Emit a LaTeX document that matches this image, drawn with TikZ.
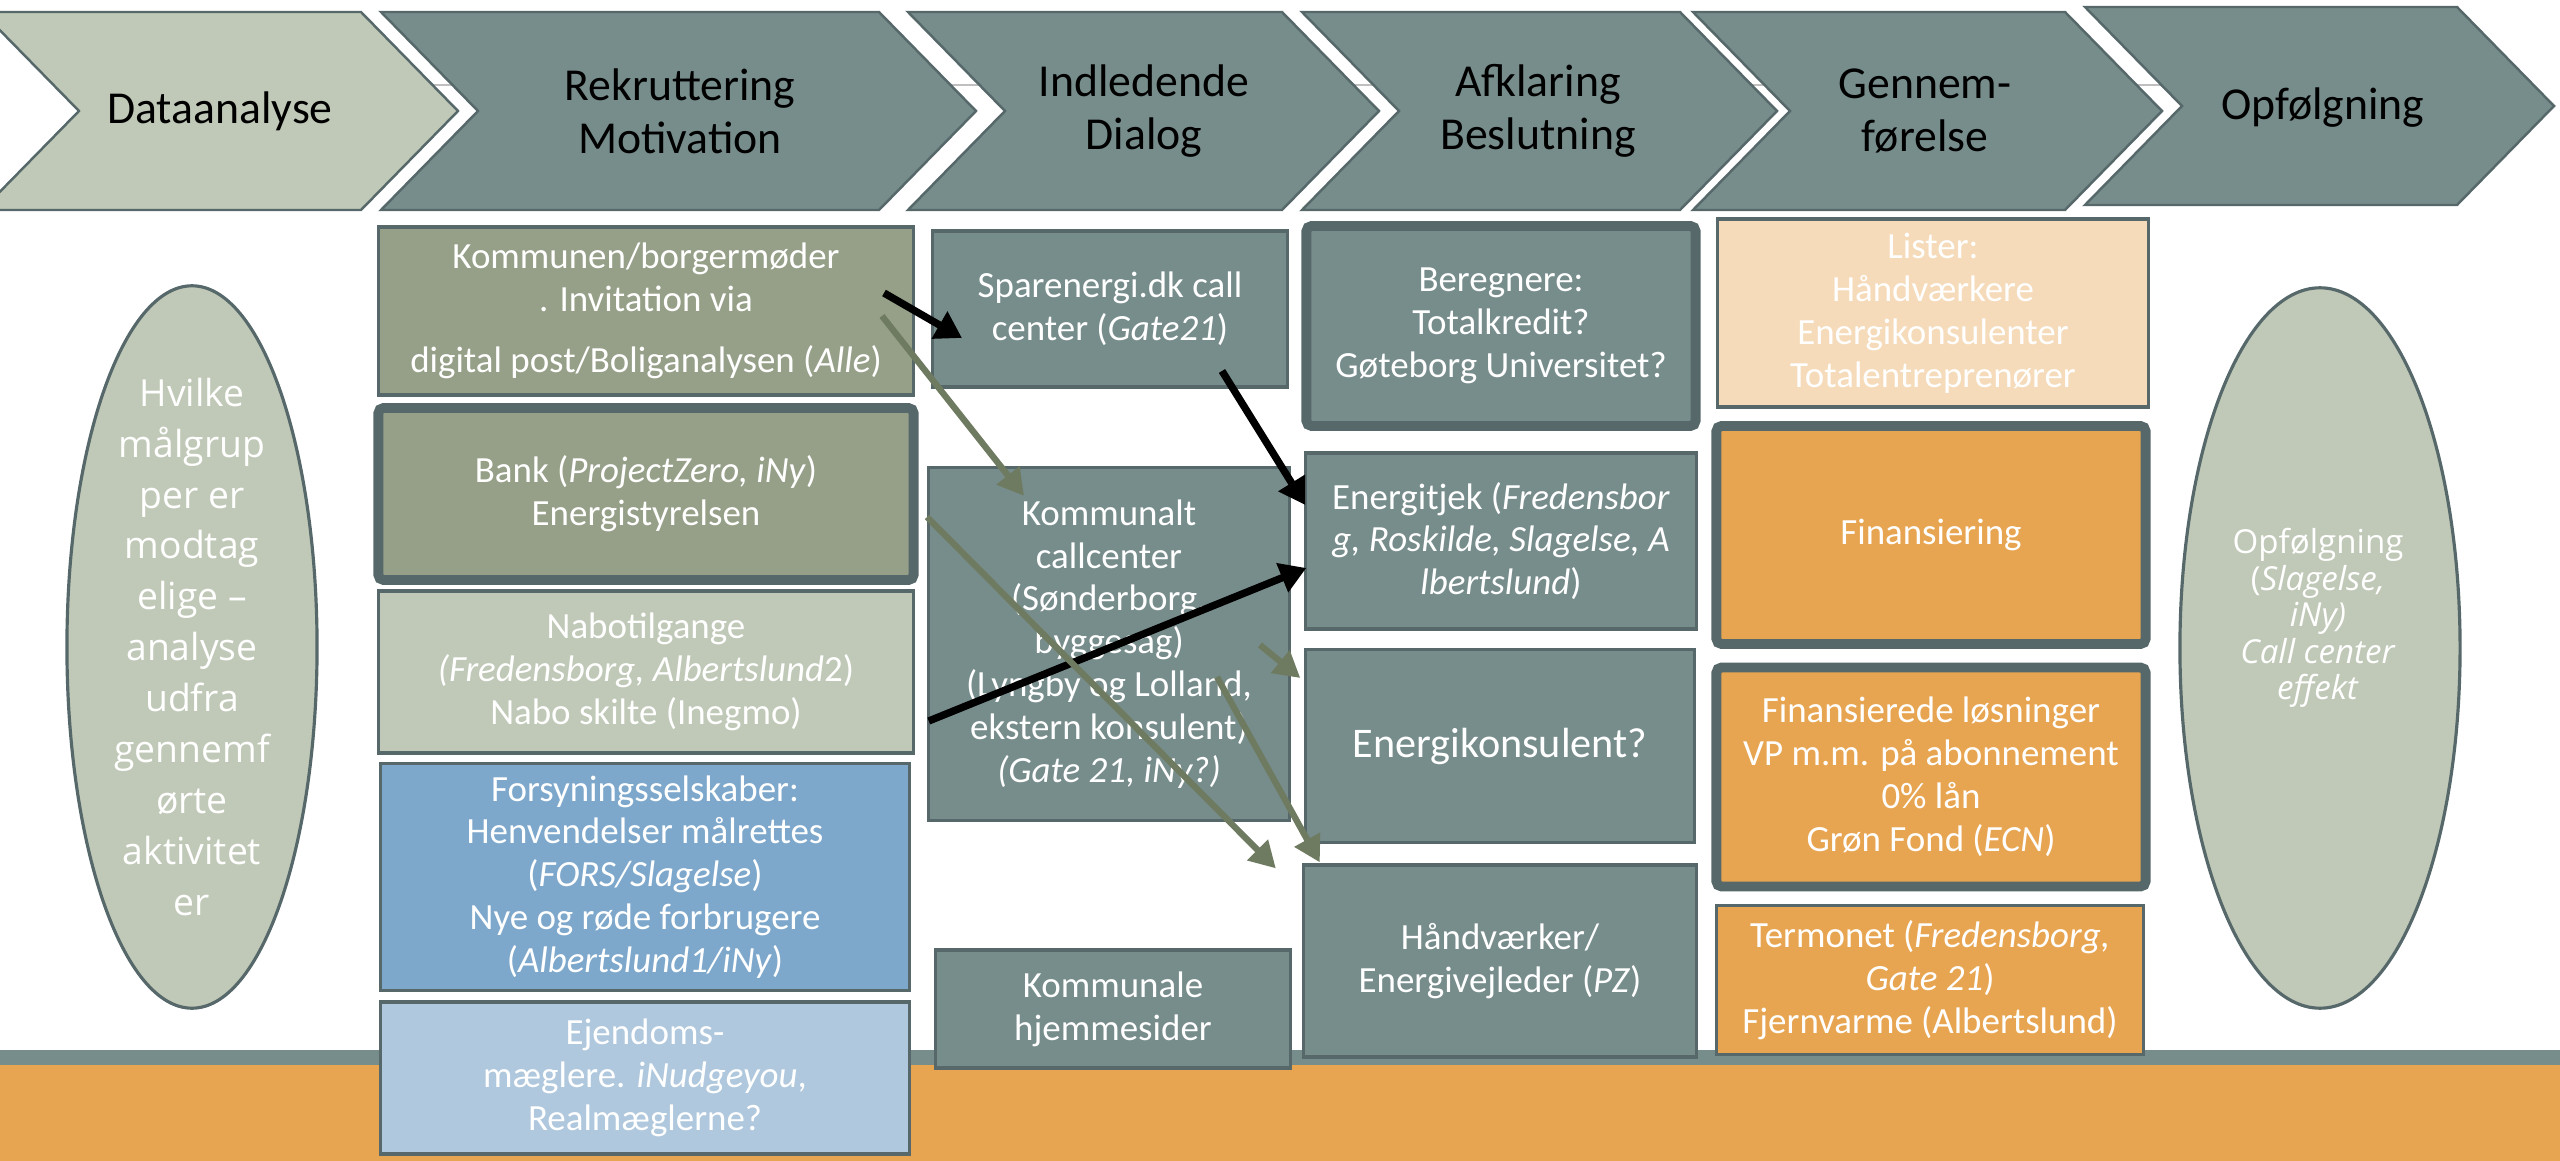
\documentclass[tikz,border=0pt]{standalone}
\usepackage{fontspec}
\setmainfont{Carlito}
\newfontfamily\ovalfont{Open Sans}
\usetikzlibrary{arrows.meta,shapes.geometric,calc}

\definecolor{slate}{HTML}{778D8C}
\definecolor{edge}{HTML}{56686A}
\definecolor{sage}{HTML}{C0C9B7}
\definecolor{olive}{HTML}{96A088}
\definecolor{sky}{HTML}{7EA8CB}
\definecolor{pale}{HTML}{AFC8DD}
\definecolor{peach}{HTML}{F5DBBA}
\definecolor{amber}{HTML}{E8A551}
\definecolor{moss}{HTML}{6F7B60}

\tikzset{
  chevron/.style={draw=edge, line width=0.7pt},
  stage/.style={align=center, font=\fontsize{13}{15}\selectfont},
  card/.style={draw=edge, line width=0.9pt, text=white, align=center, inner sep=0pt,
    font=\fontsize{10.5}{12.2}\selectfont},
  thickcard/.style={card, line width=2.8pt, rounded corners=1.5pt},
  oval/.style={ellipse, draw=edge, line width=0.9pt, fill=sage, inner sep=0pt},
  ovaltext/.style={align=center, text=white},
  blackarrow/.style={line width=2.1pt, -{Triangle[length=0.26cm,width=0.3cm]}},
  mossarrow/.style={moss, line width=1.8pt, -{Triangle[length=0.26cm,width=0.28cm]}},
}

\begin{document}
\begin{tikzpicture}[x=0.01cm, y=-0.01cm]
    \useasboundingbox (0,0) rectangle (2560,1161);

    % bund
    \fill[slate] (0,1050) rectangle (2560,1065);
    \fill[amber] (0,1065) rectangle (2560,1161);

    % faser
    \draw[black!25, line width=0.5pt] (300,85) -- (2200,85);
    \foreach \xa/\xb/\dy/\fc in {-18/361/0/sage, 381/879/0/slate, 908/1282/0/slate,
                                1302/1680/0/slate, 1693/2065/0/slate, 2085/2457/-5/slate}
        \draw[chevron, fill=\fc] (\xa,12+\dy) -- (\xb,12+\dy) -- (\xb+97,111+\dy)
            -- (\xb,210+\dy) -- (\xa,210+\dy) -- (\xa+97,111+\dy) -- cycle;
    \node[stage] (data) at (220,111) {Dataanalyse};
    \node[stage] (rekr) at (680,111) {Rekruttering\\Motivation};
    \node[stage] (indl) at (1144,111) {Indledende\\Dialog};
    \node[stage] (afkl) at (1538,111) {Afklaring\\Beslutning};
    \node[stage] (genn) at (1925,111) {Gennem-\\førelse};
    \node[stage] (opf) at (2323,108) {Opfølgning};

    % ellipser
    \node[oval, minimum width=2.5cm, minimum height=7.22cm] (maal) at (192,647) {};
    \node[ovaltext, font=\ovalfont\fontsize{10.6}{14.5}\selectfont] (maaltekst) at (192,647)
        {Hvilke\\målgrup\\per er\\modtag\\elige –\\analyse\\udfra\\gennemf\\ørte\\aktivitet\\er};
    \node[oval, minimum width=2.8cm, minimum height=7.2cm] (fup) at (2320,648) {};
    \node[ovaltext, font=\ovalfont\fontsize{9.4}{10.4}\selectfont] (fuptekst) at (2318,618)
        {Opfølgning\\(\textit{Slagelse,}\\\textit{iNy)}\\\textit{Call center}\\\textit{effekt}};

    % rekruttering
    \node[card, fill=olive, minimum width=5.34cm, minimum height=1.68cm] (komm) at (646,311)
        {Kommunen/borgermøder\\. Invitation via\\[5pt]digital post/Boliganalysen (\textit{Alle})};
    \node[thickcard, fill=olive, minimum width=5.35cm, minimum height=1.72cm] (bank) at (646,494)
        {Bank (\textit{ProjectZero, iNy})\\Energistyrelsen};
    \node[card, fill=sage, minimum width=5.34cm, minimum height=1.62cm] (nabo) at (646,672)
        {Nabotilgange\\\textit{(Fredensborg, Albertslund}2)\\Nabo skilte (Inegmo)};
    \node[card, fill=sky, minimum width=5.29cm, minimum height=2.27cm] (fors) at (645,877)
        {Forsyningsselskaber:\\Henvendelser målrettes\\(\textit{FORS/Slagelse})\\Nye og røde forbrugere\\(\textit{Albertslund1/iNy})};
    \node[card, fill=pale, minimum width=5.29cm, minimum height=1.52cm] (ejen) at (645,1078)
        {Ejendoms-\\mæglere. \textit{iNudgeyou},\\Realmæglerne?};

    % indledende dialog
    \node[card, fill=slate, minimum width=3.54cm, minimum height=1.56cm] (spar) at (1110,309)
        {Sparenergi.dk call\\center (\textit{Gate21})};
    \node[card, fill=slate, minimum width=3.6cm, minimum height=3.53cm] (call) at (1109,644)
        {Kommunalt\\callcenter\\(Sønderborg,\\byggesag)\\(Lyngby og Lolland,\\ekstern konsulent)\\\textit{(Gate 21, iNy?)}};
    \node[card, fill=slate, minimum width=3.54cm, minimum height=1.18cm] (hjem) at (1113,1009)
        {Kommunale\\hjemmesider};

    % afklaring
    \node[thickcard, fill=slate, minimum width=3.89cm, minimum height=2.0cm] (bereg) at (1501,326)
        {Beregnere:\\Totalkredit?\\Gøteborg Universitet?};
    \node[card, fill=slate, minimum width=3.9cm, minimum height=1.76cm] (tjek) at (1501,541)
        {Energitjek (\textit{Fredensbor}\\\textit{g, Roskilde, Slagelse, A}\\\textit{lbertslund})};
    \node[card, fill=slate, minimum width=3.88cm, minimum height=1.93cm,
          font=\fontsize{12}{14}\selectfont] (ekons) at (1500,746) {Energikonsulent?};
    \node[card, fill=slate, minimum width=3.93cm, minimum height=1.92cm] (hand) at (1500,961)
        {Håndværker/\\Energivejleder (\textit{PZ})};

    % gennemfoerelse
    \node[card, fill=peach, minimum width=4.3cm, minimum height=1.88cm] (lister) at (1933,313)
        {Lister:\\Håndværkere\\Energikonsulenter\\Totalentreprenører};
    \node[thickcard, fill=amber, minimum width=4.29cm, minimum height=2.18cm] (fin) at (1931,535)
        {Finansiering};
    \node[thickcard, fill=amber, minimum width=4.29cm, minimum height=2.19cm] (finl) at (1931,777)
        {Finansierede løsninger\\VP m.m. på abonnement\\0\% lån\\Grøn Fond (\textit{ECN})};
    \node[card, fill=amber, minimum width=4.27cm, minimum height=1.49cm] (term) at (1930,980)
        {Termonet (\textit{Fredensborg,}\\\textit{Gate 21})\\Fjernvarme (Albertslund)};

    % pile
    \draw[blackarrow] ($(komm)+(238,-18)$) -- ($(spar)+(-148,29)$);
    \draw[blackarrow] ($(spar)+(112,62)$) -- ($(tjek.west)+(1,-36)$);
    \draw[blackarrow] ($(nabo.east)+(14,49)$) -- ($(tjek.west)+(2,27)$);
    \draw[mossarrow] ($(komm)+(236,5)$) -- ($(call.north)+(-85,30)$);
    \draw[mossarrow] ($(bank)+(281,23)$) -- ($(hand.north west)+(-26,5)$);
    \draw[mossarrow] ($(call)+(151,1)$) -- ($(ekons.west)+(-4,-68)$);
    \draw[mossarrow] ($(call)+(108,33)$) -- ($(hand.north west)+(18,-1)$);
\end{tikzpicture}
\end{document}
